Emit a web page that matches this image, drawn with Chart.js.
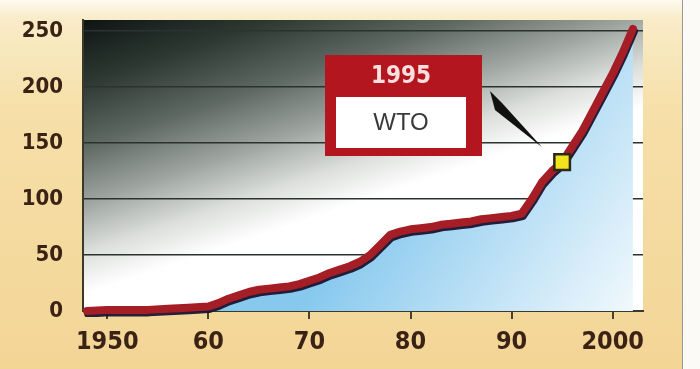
<!DOCTYPE html>
<html>
<head>
<meta charset="utf-8">
<script src="https://cdn.jsdelivr.net/npm/chart.js@4.4.1/dist/chart.umd.min.js"></script>
<style>
  html, body { margin: 0; padding: 0; background: #fff; }
  #wrap { width: 700px; height: 369px; }
</style>
</head>
<body>
<div id="wrap"><canvas id="myChart" width="700" height="369"></canvas></div>
<script>
// cumulative count by year
const years  = [1948, 1950, 1952, 1954, 1956, 1958, 1960, 1961, 1962, 1963, 1964, 1965, 1966, 1967, 1968, 1969,
                1970, 1971, 1972, 1973, 1974, 1975, 1976, 1977, 1978, 1979, 1980, 1981, 1982, 1983, 1984,
                1985, 1986, 1987, 1988, 1989, 1990, 1991, 1992, 1993, 1994, 1995, 1996, 1997, 1998,
                1999, 2000, 2001, 2002];
const counts = [0, 1, 1, 1, 2, 3, 4, 7, 11, 14, 17, 19, 20, 21, 22, 24,
                27, 30, 34, 37, 40, 44, 50, 59, 68, 71, 73, 74, 75, 77, 78,
                79, 80, 82, 83, 84, 85, 87, 100, 115, 125, 133, 147, 161, 178,
                195, 212, 231, 252];

const xTicks = [1950, 1960, 1970, 1980, 1990, 2000];
const xTickLabels = ['1950', '60', '70', '80', '90', '2000'];
const yTicks = [0, 50, 100, 150, 200, 250];

const markYear = 1995;
const markValue = 133;
const markTitle = '1995';
const markText = 'WTO';

const tickFont = "'Liberation Sans Narrow', 'DejaVu Sans Condensed', sans-serif";

const backdrop = {
  id: 'backdrop',
  beforeDraw(chart) {
    const ctx = chart.ctx;
    const a = chart.chartArea;
    ctx.save();
    let g = ctx.createLinearGradient(0, 0, 0, chart.height);
    g.addColorStop(0, '#fdf9ef');
    g.addColorStop(0.05, '#f9ecc8');
    g.addColorStop(0.3, '#f6dfa8');
    g.addColorStop(1, '#f3d596');
    ctx.fillStyle = g;
    ctx.fillRect(0, 0, chart.width, chart.height);
    ctx.fillStyle = '#fbfaf6';
    ctx.fillRect(683, 0, chart.width - 683, chart.height);
    ctx.fillStyle = '#9a9a94';
    ctx.fillRect(682, 0, 1, chart.height);

    // dark top-left fading to white lower down
    g = ctx.createLinearGradient(a.left, a.top, a.left + 83, a.top + 247);
    g.addColorStop(0, '#0d1512');
    g.addColorStop(0.23, '#2d3833');
    g.addColorStop(0.46, '#5e6863');
    g.addColorStop(0.67, '#9ea5a1');
    g.addColorStop(0.85, '#dcdfdc');
    g.addColorStop(1, '#ffffff');
    ctx.fillStyle = g;
    ctx.fillRect(a.left, a.top, a.right - a.left, a.bottom - a.top);
    ctx.restore();
  }
};

const lineShadow = {
  id: 'lineShadow',
  beforeDatasetDraw(chart, args) {
    if (args.index !== 0) return;
    const ctx = chart.ctx;
    ctx.save();
    ctx.shadowColor = 'rgba(25,20,50,0.95)';
    ctx.shadowOffsetX = 1;
    ctx.shadowOffsetY = 2.5;
    ctx.shadowBlur = 0;
  },
  afterDatasetDraw(chart, args) {
    if (args.index !== 0) return;
    chart.ctx.restore();
  }
};

const callout = {
  id: 'callout',
  afterDatasetsDraw(chart) {
    const ctx = chart.ctx;
    const mx = chart.scales.x.getPixelForValue(markYear);
    const my = chart.scales.y.getPixelForValue(markValue);
    ctx.save();
    // pointer wedge
    ctx.fillStyle = '#111';
    ctx.beginPath();
    ctx.moveTo(490, 91);
    ctx.lineTo(502, 103);
    ctx.lineTo(mx - 20, my - 15);
    ctx.lineTo(495, 110);
    ctx.closePath();
    ctx.fill();
    // red box
    ctx.fillStyle = '#b3161f';
    ctx.fillRect(325, 55, 157, 101);
    ctx.fillStyle = '#fff';
    ctx.fillRect(336, 97, 130, 51);
    ctx.textAlign = 'center';
    ctx.textBaseline = 'middle';
    ctx.fillStyle = '#fbdede';
    ctx.font = "bold 24px " + tickFont;
    ctx.fillText(markTitle, 401, 77);
    ctx.fillStyle = '#3a3a3a';
    ctx.font = "24px 'Liberation Sans', Arial, sans-serif";
    ctx.fillText(markText, 401, 123);
    ctx.restore();
  }
};

const ctx = document.getElementById('myChart').getContext('2d');
const myChart = new Chart(ctx, {
  type: 'line',
  data: {
    datasets: [{
      data: years.map((y, i) => ({ x: y, y: counts[i] })),
      borderColor: '#a51d25',
      borderWidth: 8,
      borderCapStyle: 'round',
      borderJoinStyle: 'round',
      pointRadius: 0,
      tension: 0,
      fill: 'origin',
      clip: 6,
      order: 1,
      backgroundColor: function(context) {
        const a = context.chart.chartArea;
        if (!a) return '#8ccbee';
        const g = context.chart.ctx.createLinearGradient(a.left + 320, a.top + 130, a.right, a.bottom);
        g.addColorStop(0, '#86c8ee');
        g.addColorStop(1, '#f4fafd');
        return g;
      }
    }, {
      data: [{ x: markYear, y: markValue }],
      showLine: false,
      order: 0,
      pointStyle: 'rect',
      pointRadius: 11,
      pointBackgroundColor: '#f1e31c',
      pointBorderColor: '#2a2a14',
      pointBorderWidth: 2.5
    }]
  },
  plugins: [backdrop, lineShadow, callout],
  options: {
    responsive: false,
    animation: false,
    layout: { autoPadding: false, padding: { top: 20, right: 57, left: 0, bottom: 0 } },
    plugins: { legend: { display: false }, tooltip: { enabled: false } },
    scales: {
      x: {
        type: 'linear',
        min: 1947.6,
        max: 2003,
        afterBuildTicks: function(scale) { scale.ticks = xTicks.map(v => ({ value: v })); },
        afterFit: function(scale) { scale.height = 58; },
        border: { color: '#3a3a2c', width: 2 },
        grid: { drawOnChartArea: false, color: '#4a4030', lineWidth: 2, tickLength: 8 },
        ticks: {
          autoSkip: false,
          maxRotation: 0,
          padding: 8,
          color: '#3a2214',
          font: { family: tickFont, size: 25, weight: 'bold' },
          callback: function(v) { return xTickLabels[xTicks.indexOf(v)]; }
        }
      },
      y: {
        min: 0,
        max: 260,
        afterBuildTicks: function(scale) { scale.ticks = yTicks.map(v => ({ value: v })); },
        afterFit: function(scale) {
          scale.width = 83;
          scale.paddingTop = 0;
          scale.paddingBottom = 0;
        },
        border: { color: '#3a3a2c', width: 2 },
        grid: { color: '#2c322f', lineWidth: 1.5, drawTicks: false },
        ticks: {
          padding: 20,
          color: '#3a2214',
          font: { family: tickFont, size: 22, weight: 'bold' }
        }
      }
    }
  }
});
</script>
</body>
</html>
